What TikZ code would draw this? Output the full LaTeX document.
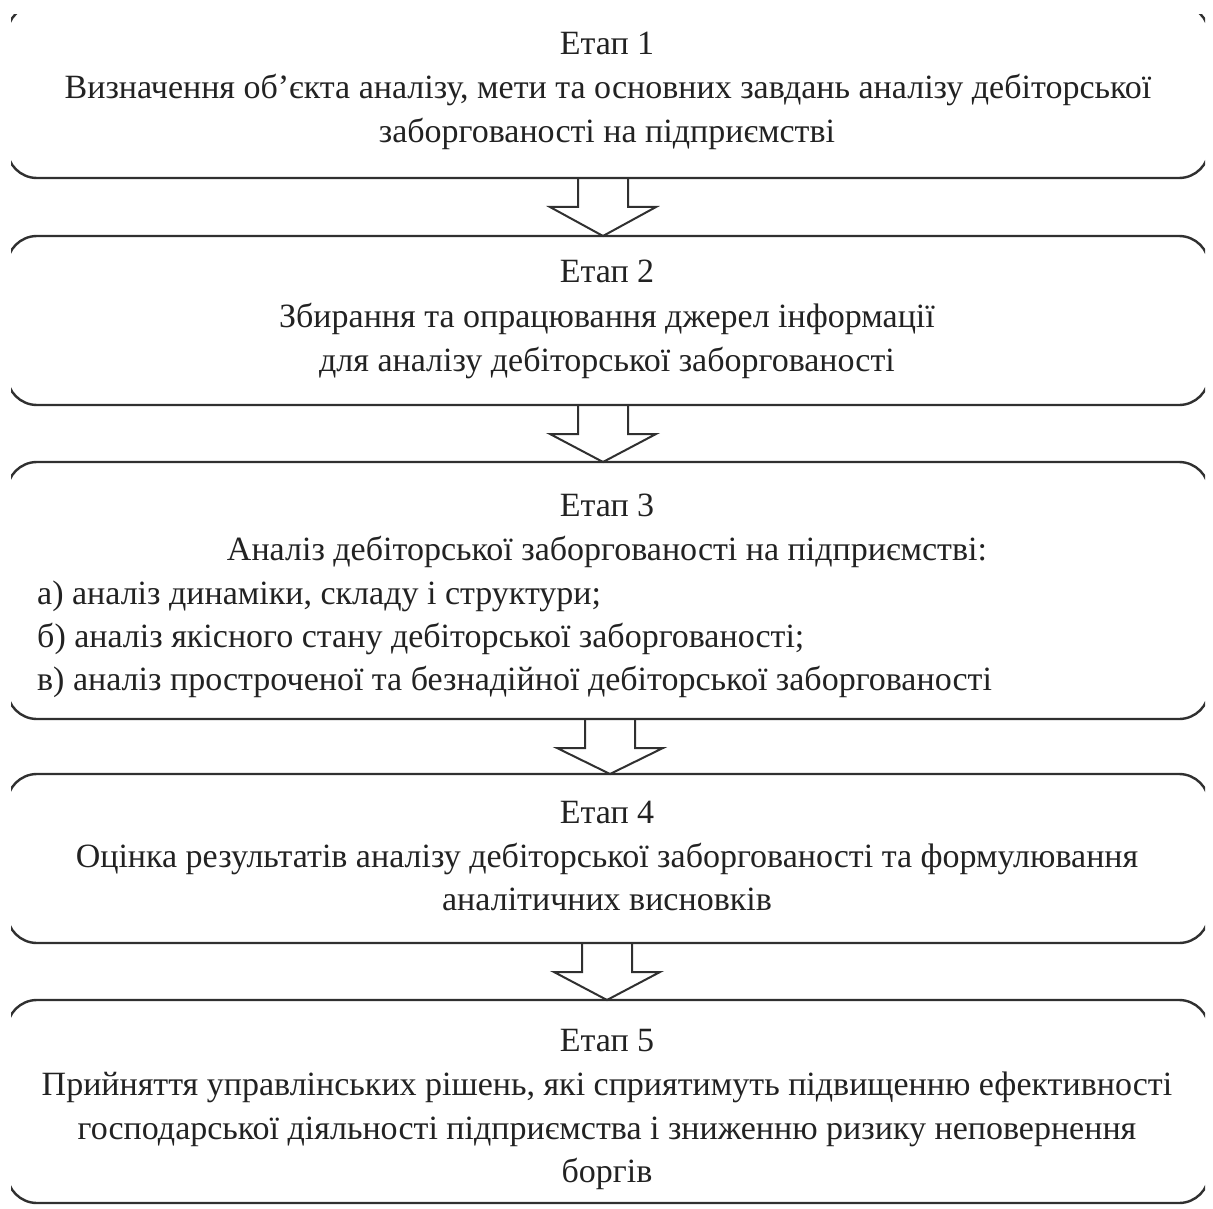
\documentclass[tikz,border=0pt]{standalone}
\usepackage{fontspec}
\setmainfont{Liberation Serif}
\usetikzlibrary{calc}
\definecolor{linegray}{HTML}{303030}
\definecolor{textgray}{HTML}{222222}
\begin{document}
\begin{tikzpicture}[x=1pt,y=-1pt,
  stagebox/.style={draw=linegray,line width=2.4pt,rounded corners=30pt,minimum width=1202pt,inner sep=0pt,outer sep=0pt},
  arrowshape/.style={draw=linegray,line width=2pt,line join=miter},
  txt/.style={font=\fontsize{34}{44}\selectfont,text=textgray,inner sep=0pt,anchor=base}]
\useasboundingbox (0,0) rectangle (1213,1209);
\begin{scope}
\clip (11,15) rectangle (1205,1209);
\node[stagebox,minimum height=173pt] (b1) at (608,91.5) {};
\node[stagebox,minimum height=169pt] (b2) at (608,320.5) {};
\node[stagebox,minimum height=257pt] (b3) at (608,590.5) {};
\node[stagebox,minimum height=169pt] (b4) at (608,858.5) {};
\node[stagebox,minimum height=203pt] (b5) at (608,1101.5) {};
\end{scope}
% arrows
\foreach \a/\b/\dx in {b1/b2/-5, b2/b3/-5, b3/b4/2, b4/b5/-1}{
  \draw[arrowshape] ($(\a.south)+(\dx-25,0)$) -- ++(0,29) -- ++(-28,0)
     -- ($(\b.north)+(\dx,0)$) -- ($(\a.south)+(\dx+53,29)$) -- ++(-28,0) -- ++(0,-29);
}
% texts
\node[txt] (t1a) at (607,55) {Етап 1};
\node[txt] (t1b) at (608,99) {Визначення об’єкта аналізу, мети та основних завдань аналізу дебіторської};
\node[txt] (t1c) at (607,143) {заборгованості на підприємстві};
\node[txt] (t2a) at (607,283) {Етап 2};
\node[txt] (t2b) at (607,327) {Збирання та опрацювання джерел інформації};
\node[txt] (t2c) at (607,371) {для аналізу дебіторської заборгованості};
\node[txt] (t3a) at (607,516) {Етап 3};
\node[txt] (t3b) at (607,560) {Аналіз дебіторської заборгованості на підприємстві:};
\node[txt,anchor=base west] (t3c) at (37,604) {а) аналіз динаміки, складу і структури;};
\node[txt,anchor=base west] (t3d) at (37,647) {б) аналіз якісного стану дебіторської заборгованості;};
\node[txt,anchor=base west] (t3e) at (37,690) {в) аналіз простроченої та безнадійної дебіторської заборгованості};
\node[txt] (t4a) at (607,823) {Етап 4};
\node[txt] (t4b) at (607,867) {Оцінка результатів аналізу дебіторської заборгованості та формулювання};
\node[txt] (t4c) at (607,910) {аналітичних висновків};
\node[txt] (t5a) at (607,1051) {Етап 5};
\node[txt] (t5b) at (607,1095) {Прийняття управлінських рішень, які сприятимуть підвищенню ефективності};
\node[txt] (t5c) at (607,1139) {господарської діяльності підприємства і зниженню ризику неповернення};
\node[txt] (t5d) at (607,1182) {боргів};
\end{tikzpicture}
\end{document}
